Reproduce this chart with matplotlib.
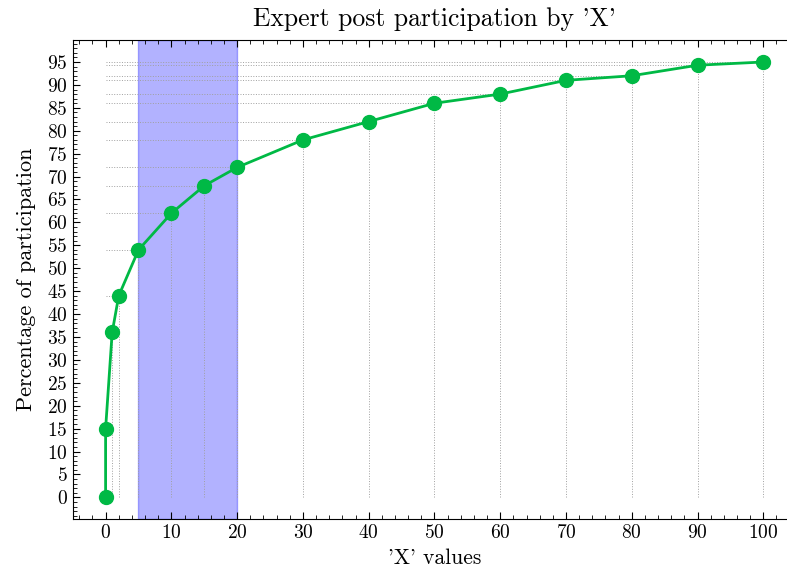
import matplotlib
matplotlib.use("Agg")
import matplotlib.pyplot as plt
from matplotlib.ticker import MultipleLocator

plt.rcParams['font.family'] = 'serif'
plt.rcParams['font.serif'] = ['cmr10']
plt.rcParams['mathtext.fontset'] = 'cm'
plt.rcParams['axes.formatter.use_mathtext'] = True
plt.rcParams['axes.unicode_minus'] = False

# x values and participation percentages
x_vals = [0, 0, 1, 2, 5, 10, 15, 20, 30, 40, 50, 60, 70, 80, 90, 100]
y_vals = [0, 15, 36, 44, 54, 62, 68, 72, 78, 82, 86, 88, 91, 92, 94.3, 95]
span_start, span_end = 5, 20

fig = plt.figure(figsize=(7.87, 5.74), dpi=100)
ax = fig.add_axes([0.0924, 0.0956, 0.9193, 0.8343])

ax.axvspan(span_start, span_end, color='blue', alpha=0.3)

# dotted guide lines from each point down to 0 and back to x=0
ax.vlines(x_vals, 0, y_vals, colors='#a0a0a0', linestyles=':', linewidth=0.7)
ax.hlines(y_vals, 0, x_vals, colors='#a0a0a0', linestyles=':', linewidth=0.7)

ax.plot(x_vals, y_vals, color='#00B945', linewidth=2, marker='o', markersize=10)

ax.set_xlim(-5, 105)
ax.set_ylim(-4.75, 99.75)
ax.xaxis.set_major_locator(MultipleLocator(10))
ax.xaxis.set_minor_locator(MultipleLocator(2))
ax.yaxis.set_major_locator(MultipleLocator(5))
ax.yaxis.set_minor_locator(MultipleLocator(1))
ax.tick_params(which='both', direction='in', top=True, right=True, labelsize=14)
ax.tick_params(which='major', length=5, width=0.8)
ax.tick_params(which='minor', length=3, width=0.6)

ax.set_title("Expert post participation by 'X'", fontsize=18.5, pad=10)
ax.set_xlabel("'X' values", fontsize=15.5, labelpad=5)
ax.set_ylabel("Percentage of participation", fontsize=16, labelpad=8)

fig.savefig("out.png", dpi=100)
